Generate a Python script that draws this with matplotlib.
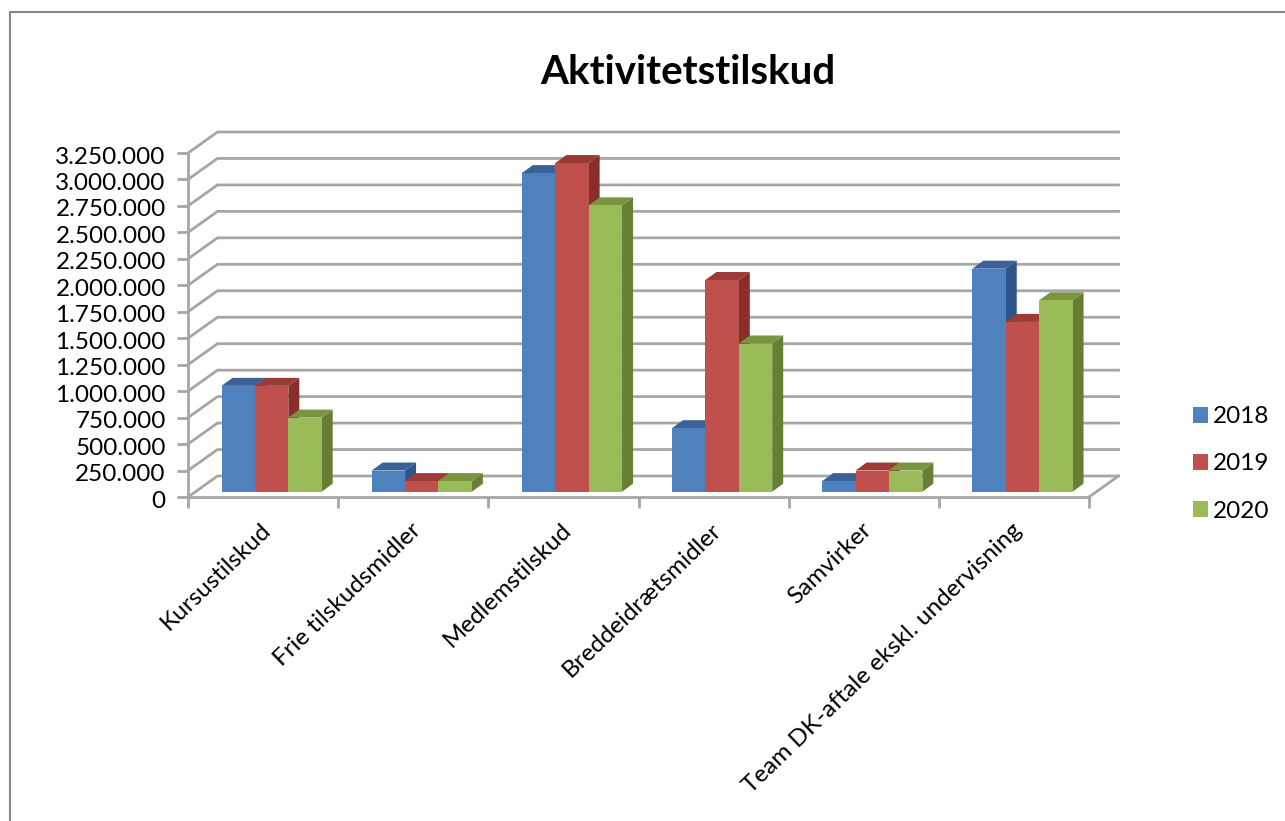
import matplotlib
matplotlib.use('Agg')
import matplotlib.pyplot as plt
from matplotlib.lines import Line2D
from matplotlib.patches import Polygon
from matplotlib.ticker import FuncFormatter
from matplotlib.transforms import ScaledTranslation

categories = ['Kursustilskud', 'Frie tilskudsmidler', 'Medlemstilskud',
              'Breddeidrætsmidler', 'Samvirker', 'Team DK-aftale ekskl. undervisning']
years = ['2018', '2019', '2020']
v2018 = [1000000, 200000, 3010000, 600000, 100000, 2107000]
v2019 = [1000000, 100000, 3105000, 2000000, 200000, 1604000]
v2020 = [700000, 100000, 2705000, 1400000, 200000, 1808000]
yticks = list(range(0, 3250001, 250000))

front_cols = ['#4F81BD', '#C0504D', '#9BBB59']
top_cols = ['#3A6298', '#9C3A38', '#7A9440']
side_cols = ['#2F5588', '#8A2E2C', '#667F35']
grid_col = '#A6A6A6'

W, H = 1285, 821
plt.rcParams['font.family'] = ['Lato', 'DejaVu Sans']

fig = plt.figure(figsize=(W / 100, H / 100), dpi=100)
# plot front plane in pixels: x 188-1089, y 153-497
ax = fig.add_axes([188 / W, 1 - 497 / H, 901 / W, 344 / H])
ax.set_xlim(0, 6)
ax.set_ylim(0, 3250000)
ax.patch.set_alpha(0)

px_x = 6 / 901
px_y = 3250000 / 344

# back wall offset and bar depth
wall_dx, wall_dy = 29.5 * px_x, 21 * px_y
bar_dx, bar_dy = 11 * px_x, 8 * px_y
base = 5.3 * px_y
inset = 33.5 * px_x
bar_w = 33.4 * px_x

# gridlines: along the left side then along the back wall
for t in yticks:
    ax.plot([0, wall_dx, 6 + wall_dx], [t, t + wall_dy, t + wall_dy],
            color=grid_col, lw=2, clip_on=False, zorder=1, solid_joinstyle='miter')
ax.plot([6, 6 + wall_dx], [0, wall_dy], color=grid_col, lw=2, clip_on=False, zorder=1)

for j, vals in enumerate([v2018, v2019, v2020]):
    xs = [i + inset + j * bar_w for i in range(len(categories))]
    ax.bar(xs, vals, width=bar_w, bottom=base, align='edge', color=front_cols[j],
           zorder=5 + 2 * j, label=years[j], linewidth=0, clip_on=False)
    for x, v in zip(xs, vals):
        y0, y1 = base, base + v
        ax.add_patch(Polygon([(x + bar_w, y0), (x + bar_w + bar_dx, y0 + bar_dy),
                              (x + bar_w + bar_dx, y1 + bar_dy), (x + bar_w, y1)],
                             facecolor=side_cols[j], edgecolor='none', zorder=4 + 2 * j, clip_on=False))
        ax.add_patch(Polygon([(x, y1), (x + bar_dx, y1 + bar_dy),
                              (x + bar_w + bar_dx, y1 + bar_dy), (x + bar_w, y1)],
                             facecolor=top_cols[j], edgecolor='none', zorder=4 + 2 * j, clip_on=False))

for s in ['top', 'right']:
    ax.spines[s].set_visible(False)
for s in ['left', 'bottom']:
    ax.spines[s].set_color(grid_col)
    ax.spines[s].set_linewidth(2)

ax.set_yticks(yticks)
ax.yaxis.set_major_formatter(FuncFormatter(lambda v, p: f'{int(v):,}'.replace(',', '.')))
ax.set_xticks(range(7))
ax.set_xticklabels([])
ax.tick_params(axis='both', color=grid_col, width=2, length=8)
ax.tick_params(axis='y', labelsize=17.5, pad=8)

# tick labels sit a little lower than the ticks
nudge = ScaledTranslation(0, -2 / 100, fig.dpi_scale_trans)
for lbl in ax.get_yticklabels():
    lbl.set_transform(lbl.get_transform() + nudge)

for i, c in enumerate(categories):
    ax.annotate(c, xy=(i + 0.5, 0), xytext=(-2, -16), textcoords='offset points',
                rotation=44, rotation_mode='anchor', ha='right', va='top', fontsize=17.5)

fig.text(688 / W, 1 - 72 / H, 'Aktivitetstilskud', fontsize=29, fontweight='bold',
         ha='center', va='center')

handles, labels = ax.get_legend_handles_labels()
fig.legend(handles, labels, loc='center left', bbox_to_anchor=(1193 / W, 1 - 464 / H),
           frameon=False, fontsize=17.5, handlelength=0.62, handleheight=0.62,
           handletextpad=0.2, labelspacing=1.08, borderpad=0, borderaxespad=0)

# chart border: only the top and left edges show in the picture
fig.add_artist(Line2D([9.5 / W, 9.5 / W, 1], [0, 1 - 12.5 / H, 1 - 12.5 / H],
                      transform=fig.transFigure, color='#888888', lw=1.5,
                      solid_joinstyle='miter'))

fig.savefig('out.png', dpi=100)
